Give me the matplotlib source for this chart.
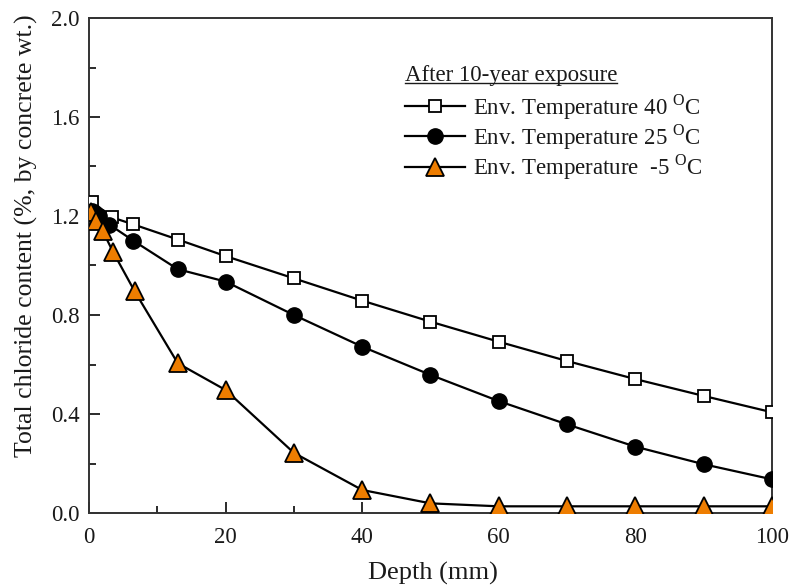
import matplotlib
matplotlib.use("Agg")
import matplotlib.pyplot as plt
from matplotlib.ticker import MultipleLocator, FormatStrFormatter
from matplotlib.lines import Line2D

plt.rcParams['font.family'] = ['Liberation Serif', 'DejaVu Serif']
plt.rcParams['mathtext.fontset'] = 'custom'
plt.rcParams['mathtext.rm'] = 'Liberation Serif'

depth_40 = [0.5, 3.3, 6.5, 13, 20, 30, 40, 50, 60, 70, 80, 90, 100]
cl_40 = [1.258, 1.195, 1.166, 1.105, 1.038, 0.948, 0.858, 0.773, 0.692, 0.614, 0.541, 0.473, 0.407]

depth_25 = [0.5, 1.5, 3, 6.5, 13, 20, 30, 40, 50, 60, 70, 80, 90, 100]
cl_25 = [1.22, 1.20, 1.165, 1.10, 0.985, 0.935, 0.80, 0.672, 0.558, 0.452, 0.358, 0.268, 0.197, 0.136]

depth_m5 = [0.3, 1, 2, 3.5, 6.7, 13, 20, 30, 40, 50, 60, 70, 80, 90, 100]
cl_m5 = [1.215, 1.18, 1.14, 1.056, 0.895, 0.605, 0.497, 0.243, 0.093, 0.039, 0.027, 0.027, 0.027, 0.027, 0.027]

labels = [r"Env. Temperature 40 $^{\mathrm{O}}$C",
          r"Env. Temperature 25 $^{\mathrm{O}}$C",
          r"Env. Temperature  -5 $^{\mathrm{O}}$C"]
legend_title = "After 10-year exposure"

TXT = '#1a1a1a'
fig = plt.figure(figsize=(7.93, 5.87), dpi=100)
ax = fig.add_axes([89/793, 1 - 513/587, (772-89)/793, (513-18)/587])

ax.plot(depth_40, cl_40, '-', color='black', lw=1.6, marker='s', ms=9,
        mfc='white', mec='black', mew=1.3, label=labels[0], zorder=3)
ax.plot(depth_25, cl_25, '-', color='black', lw=1.6, marker='o', ms=11,
        mfc='black', mec='black', label=labels[1], zorder=3)
ax.plot(depth_m5, cl_m5, '-', color='black', lw=1.6, marker='^', ms=13,
        mfc='#EE7D00', mec='black', mew=1.3, label=labels[2], zorder=4)

ax.set_xlim(0, 100)
ax.set_ylim(0, 2.0)
ax.xaxis.set_major_locator(MultipleLocator(20))
ax.xaxis.set_minor_locator(MultipleLocator(10))
ax.yaxis.set_major_locator(MultipleLocator(0.4))
ax.yaxis.set_minor_locator(MultipleLocator(0.2))
ax.yaxis.set_major_formatter(FormatStrFormatter('%.1f'))
ax.tick_params(which='both', direction='in', top=False, right=False, labelsize=16.5, colors=TXT)
ax.tick_params(which='major', length=8, width=1.3)
ax.tick_params(which='minor', length=5, width=1.3)
ax.tick_params(axis='x', which='major', pad=10)
ax.tick_params(axis='y', which='major', pad=7)
for s in ax.spines.values():
    s.set_linewidth(1.4)
    s.set_color('#333333')

ax.set_xlabel("Depth (mm)", fontsize=19, color=TXT)
ax.set_ylabel("Total chloride content (%, by concrete wt.)", fontsize=18.5, color=TXT)
ax.xaxis.set_label_coords((433-89)/683, (513-573)/495)
ax.yaxis.set_label_coords((26-89)/683, (513-236)/495)
ax.xaxis.label.set_va('center')
ax.yaxis.label.set_va('center')

leg = ax.legend(loc='upper left', bbox_to_anchor=((405-89)/683, (513-92)/495), frameon=False,
                fontsize=16.5, handlelength=2.6, handletextpad=0.35, labelspacing=0.03,
                borderaxespad=0, borderpad=0)
for txt in leg.get_texts():
    txt.set_color(TXT)

t = ax.text((405-89)/683, (513-75)/495, legend_title, transform=ax.transAxes, fontsize=16.5,
            ha='left', va='center', color=TXT)
fig.canvas.draw()
bb = t.get_window_extent().transformed(fig.transFigure.inverted())
fig.add_artist(Line2D([bb.x0, bb.x1], [bb.y0 + 0.004, bb.y0 + 0.004],
                      transform=fig.transFigure, color=TXT, lw=1.0))

fig.savefig("out.png", dpi=100)
